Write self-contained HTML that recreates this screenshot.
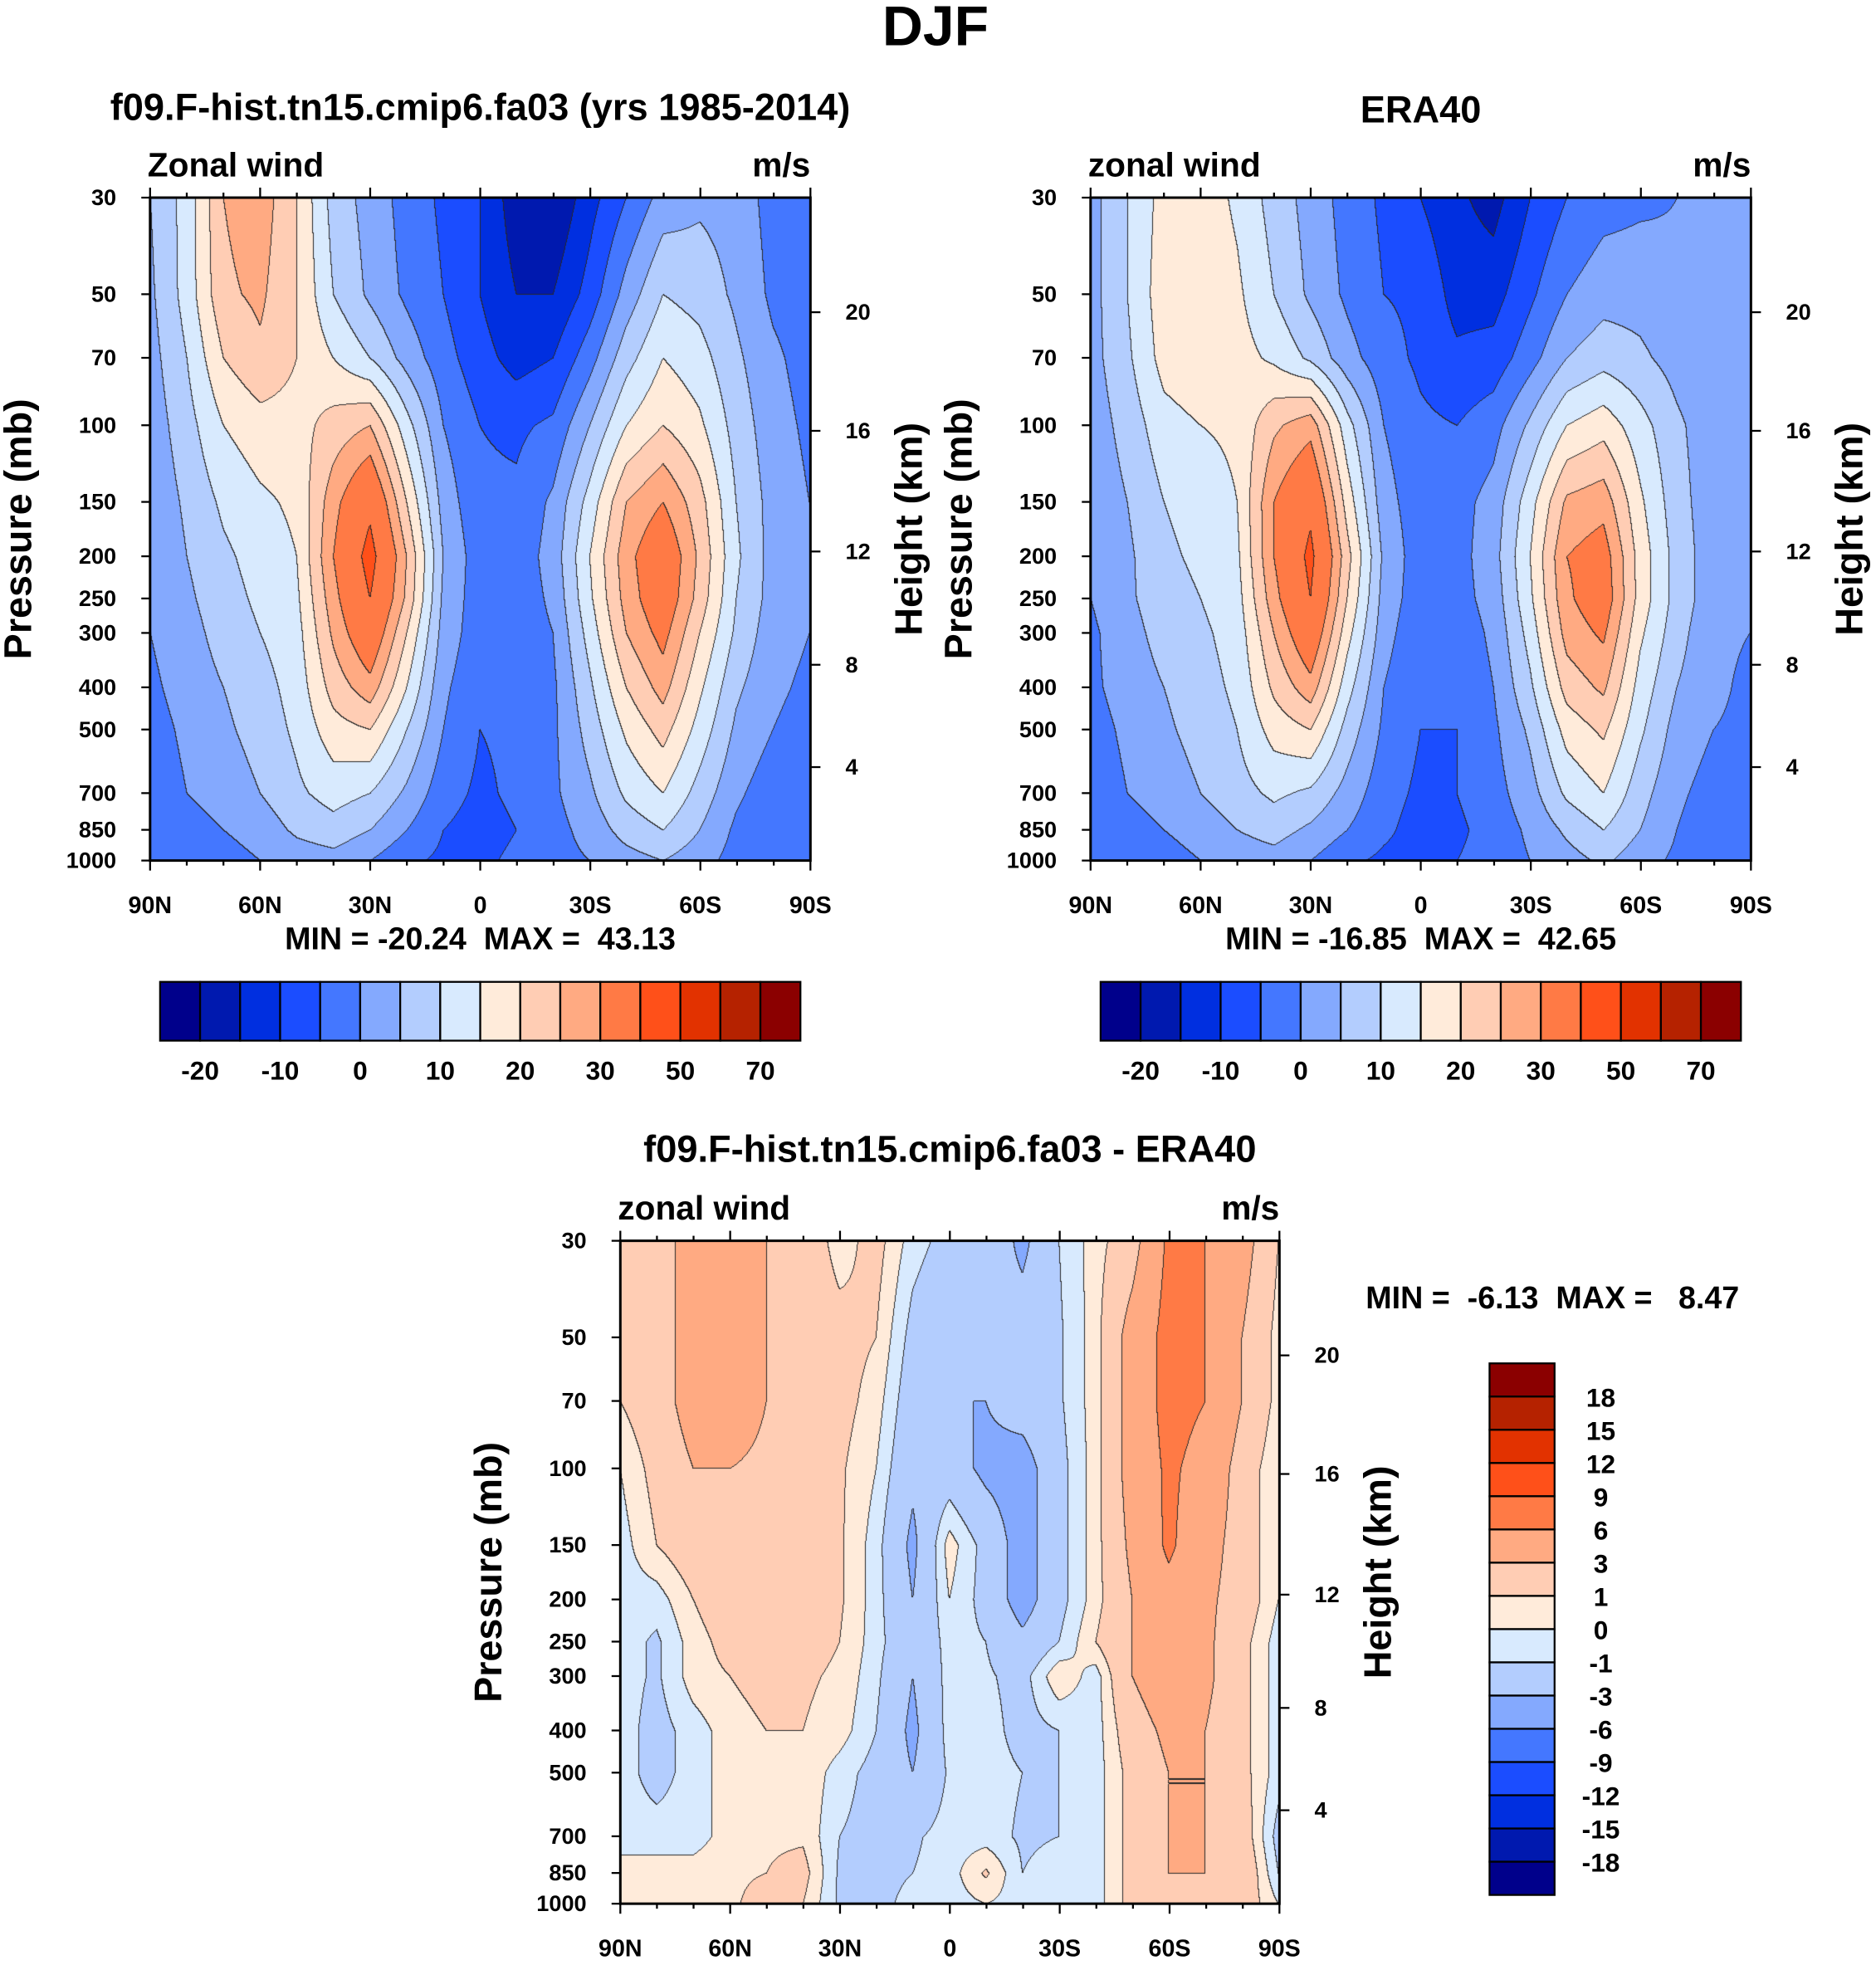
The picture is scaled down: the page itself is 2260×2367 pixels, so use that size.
<!DOCTYPE html>
<html><head><meta charset="utf-8">
<style>
html,body{margin:0;padding:0;background:#fff;}
#wrap{position:relative;width:2260px;height:2367px;overflow:hidden;}
canvas,svg{position:absolute;left:0;top:0;}
text{font-family:"Liberation Sans",sans-serif;font-weight:bold;fill:#000;white-space:pre;}
</style></head>
<body>
<div id="wrap">
<canvas id="cv" width="2260" height="2367"></canvas>
<svg id="sv" width="2260" height="2367" viewBox="0 0 1500 1571"></svg>
</div>
<script>
const lats=[90,80,70,60,50,40,30,20,10,0,-10,-20,-30,-40,-50,-60,-70,-80,-90];
const levels=[30,50,70,100,150,200,250,300,400,500,700,850,1000];
const pTicks=[30,50,70,100,150,200,250,300,400,500,700,850,1000];
const hTicks=[20,16,12,8,4];
const hTickP=[55,103,195,355,610];
const latTicks=["90N","60N","30N","0","30S","60S","90S"];
const colors=["#00008b","#0019af","#002fe0","#1b4dff","#4477ff","#84a9fe","#b3cdfe","#d8eafe","#ffebda","#ffcdb4","#ffaa82","#ff7a45","#ff5019","#e23200","#b52200","#8b0000"];
const bounds1=[-20,-15,-10,-5,0,5,10,15,20,25,30,40,50,60,70];
const cbLabels1=["-20","-10","0","10","20","30","50","70"];
const bounds3=[-18,-15,-12,-9,-6,-3,-1,0,1,3,6,9,12,15,18];
const model=[
[5,12,25,28,20,8,3,-2,-6,-10,-18,-20,-12,-5,2,4,3,-2,-3],
[4,12,24,26,20,10,4,-1,-5,-10,-15,-15,-8,2,10,8,4,-1,-3],
[3,10,20,24,20,15,10,3,-3,-8,-12,-10,-2,8,15,12,6,1,-2],
[2,8,15,18,18,22,25,12,0,-5,-6,-4,5,15,20,16,8,2,-1],
[1,6,11,14,16,28,38,20,3,-4,-4,1,12,25,30,22,10,3,0],
[0,5,9,12,15,30,43,25,5,-3,-3,2,15,28,36,24,11,3,0],
[0,4,8,11,14,28,40,24,4,-3,-3,1,14,27,35,23,10,3,0],
[0,3,7,10,13,26,36,20,3,-3,-3,0,12,25,32,20,9,2,0],
[-1,2,5,8,12,22,28,15,1,-4,-4,-1,9,20,27,16,6,1,-1],
[-2,1,4,7,11,18,20,10,0,-5,-4,-1,7,16,22,13,4,0,-2],
[-3,0,2,5,9,12,10,4,-3,-6,-4,-1,4,11,15,8,1,-3,-4],
[-3,-2,0,2,6,8,5,0,-5,-7,-5,-2,2,7,10,5,-1,-4,-5],
[-2,-2,-2,0,2,3,0,-4,-6,-6,-4,-2,0,3,5,2,-2,-3,-3]];
const obs=[
[3,10,17,18,14,8,3,-2,-6,-10,-14,-17,-10,-5,-2,-1,0,0,0],
[3,10,18,19,16,10,4,-1,-5,-6,-12,-12,-6,0,3,3,1,0,0],
[3,9,17,19,17,14,9,2,-3,-6,-9,-8,-2,5,8,6,3,1,0],
[2,7,13,15,16,24,28,12,0,-4,-5,-2,6,15,18,12,6,2,0],
[1,5,10,12,15,30,38,18,2,-3,-2,2,13,26,28,16,7,2,0],
[0,4,9,11,14,30,42,22,4,-3,-2,3,15,30,33,18,8,2,0],
[0,4,8,10,13,28,40,20,3,-3,-2,2,14,29,34,18,8,2,0],
[-1,3,7,9,12,25,36,17,2,-4,-3,1,12,27,31,16,7,1,0],
[-1,2,5,8,11,21,28,12,0,-5,-4,0,9,22,26,13,5,1,-1],
[-2,1,4,7,10,17,20,8,-1,-5,-5,-1,6,17,21,11,3,0,-1],
[-3,0,2,5,8,11,9,3,-3,-6,-5,-2,3,11,15,7,1,-2,-3],
[-4,-2,0,2,5,7,4,0,-4,-7,-6,-3,1,6,10,5,0,-3,-3],
[-3,-2,-2,0,2,3,0,-4,-6,-7,-5,-3,0,3,6,2,-1,-2,-2]];
const diff=[
[1.5,2,4,5,3,2,0.5,1.5,-0.5,-1.5,-1.5,-3.5,-1,0.5,2,6.5,6,4,1],
[1,2,4,5,3,2,1.5,1,-1.5,-2.5,-2.5,-2,-1.2,0.5,4,7,6,3,0.5],
[1,2,4,4.5,3,2,1.5,0.5,-2,-3,-3,-2,-1.2,0.5,4,7,6,3,0.5],
[0,1.5,3,3,2.5,1.5,1.2,0,-2.5,-2,-3.5,-4,-1.5,0.5,4,6.5,5,2,0],
[-0.5,1,2,2.5,2,1.5,1.2,-0.5,-3.5,0.5,-1.5,-4,-1.5,0.5,3.5,6.5,4,2,0],
[-0.5,-0.5,1,2,2,1.5,1.2,-0.5,-3,0,-1.5,-4,-1.5,0.5,3,5,3.5,2,0],
[-0.5,-1.2,0.5,1.5,2,1.5,1,-0.5,-2.5,-0.5,-1,-2.5,-1,1,3,5,3.5,1.5,-0.5],
[-0.5,-1.2,0.5,1,1.5,1.2,0.8,-0.7,-3,-0.5,-0.8,-1.5,0.8,-0.5,3,4.5,3.5,1.5,-0.5],
[-0.5,-1.5,-0.5,0.5,1,1,0.5,-1,-3.5,-0.5,-0.5,-1.5,-1,-0.5,2,3.5,3,1.5,-0.5],
[-0.5,-1.5,-0.5,0.5,1,0.8,-0.5,-1.5,-3,-0.8,-0.5,-1,-1,-0.5,1.5,3,3,1.5,-0.5],
[-0.5,-0.5,-0.5,0.5,0.8,0.8,-1,-1.5,-1.2,-0.5,-0.5,-1.2,-1,-0.5,1.5,3,3,2,-1.5],
[0.5,0.5,0.5,0.8,1,1.5,-1.2,-1.5,-1,-0.5,1.2,-1,-0.5,-0.5,1.5,3,3,2.5,-1],
[0.5,0.5,0.5,0.8,1.5,1,-1.2,-1.5,-0.5,-0.5,0,-0.5,-0.5,-0.5,1.5,2.5,2.5,2,0]];

const S=2260/1500;
const NS='http://www.w3.org/2000/svg';
const sv=document.getElementById('sv');
const ctx=document.getElementById('cv').getContext('2d');
function el(tag,attrs,parent,txt){const e=document.createElementNS(NS,tag);for(const k in attrs)e.setAttribute(k,attrs[k]);if(txt!==undefined)e.textContent=txt;(parent||sv).appendChild(e);return e;}
function hex(c){return [parseInt(c.substr(1,2),16),parseInt(c.substr(3,2),16),parseInt(c.substr(5,2),16)];}
const rgb=colors.map(hex);

function panel(P){
  const {x0,y0,w,h,data,bounds,name}=P;
  const xS=lat=>x0+(90-lat)/180*w;
  const yS=p=>y0+h*Math.log(p/30)/Math.log(1000/30);
  const X0=Math.round(x0*S),Y0=Math.round(y0*S),W=Math.round((x0+w)*S)-X0,H=Math.round((y0+h)*S)-Y0;
  const lvY=levels.map(p=>(yS(p)*S-Y0));
  const img=ctx.createImageData(W,H);
  const idx=new Int16Array(W*H);
  for(let j=0;j<H;j++){
    let k=0;while(k<levels.length-2&&lvY[k+1]<j)k++;
    const ty=Math.min(1,Math.max(0,(j-lvY[k])/(lvY[k+1]-lvY[k])));
    for(let i=0;i<W;i++){
      const fx=i/(W-1)*(lats.length-1);let c=Math.min(lats.length-2,Math.floor(fx));const tx=fx-c;
      const v=(1-ty)*((1-tx)*data[k][c]+tx*data[k][c+1])+ty*((1-tx)*data[k+1][c]+tx*data[k+1][c+1]);
      let b=0;while(b<bounds.length&&v>=bounds[b])b++;
      idx[j*W+i]=b;
    }
  }
  for(let j=0;j<H;j++)for(let i=0;i<W;i++){
    const b=idx[j*W+i];let col=rgb[b];
    if((i<W-1&&idx[j*W+i+1]!==b)||(j<H-1&&idx[(j+1)*W+i]!==b))col=[40,40,40];
    const o=(j*W+i)*4;img.data[o]=col[0];img.data[o+1]=col[1];img.data[o+2]=col[2];img.data[o+3]=255;
  }
  ctx.putImageData(img,X0,Y0);
  const g=el('g',{});
  el('rect',{x:x0,y:y0,width:w,height:h,fill:'none',stroke:'#000','stroke-width':2,},g);
  pTicks.forEach(p=>{const y=yS(p);
    el('line',{x1:x0-7,x2:x0,y1:y,y2:y,stroke:'#000','stroke-width':1.5},g);
    el('text',{x:x0-27,y:y+6,'text-anchor':'end','font-size':18,},g,p);});
  hTicks.forEach((hv,i)=>{const y=yS(hTickP[i]);
    el('line',{x1:x0+w,x2:x0+w+8,y1:y,y2:y,stroke:'#000','stroke-width':1.5},g);
    el('text',{x:x0+w+28,y:y+6,'font-size':18,},g,hv);});
  for(let lat=90;lat>=-90;lat-=10){const x=xS(lat);const maj=lat%30===0;
    el('line',{x1:x0+0,x2:x,y1:y0,y2:y0-(maj?8:4),stroke:'#000','stroke-width':0},g);
    el('line',{x1:x,x2:x,y1:y0,y2:y0-(maj?8:4),stroke:'#000','stroke-width':1.5},g);
    el('line',{x1:x,x2:x,y1:y0+h,y2:y0+h+(maj?8:4),stroke:'#000','stroke-width':1.5},g);}
  latTicks.forEach((t,i)=>{el('text',{x:xS(90-30*i),y:y0+h+42,'text-anchor':'middle','font-size':19,},g,t);});
  el('text',{x:x0-2,y:y0-17,'font-size':27,},g,P.left);
  el('text',{x:x0+w,y:y0-17,'text-anchor':'end','font-size':27,},g,'m/s');
  el('text',{x:x0+w/2,y:P.ty,'text-anchor':'middle','font-size':30,},g,P.title);
  const cy=y0+h/2;
  el('text',{x:0,y:0,transform:`translate(${x0-95},${cy}) rotate(-90)`,'text-anchor':'middle','font-size':31,},g,'Pressure (mb)');
  el('text',{x:0,y:0,transform:`translate(${x0+w+89},${cy}) rotate(-90)`,'text-anchor':'middle','font-size':31,},g,'Height (km)');
  return g;
}
el('text',{x:748,y:36,'text-anchor':'middle','font-size':45,},sv,'DJF');
const g1=panel({x0:120,y0:158,w:528,h:530,data:model,bounds:bounds1,name:'model-panel',left:'Zonal wind',title:'f09.F-hist.tn15.cmip6.fa03 (yrs 1985-2014)',ty:96});
const g2=panel({x0:872,y0:158,w:528,h:530,data:obs,bounds:bounds1,name:'era40-panel',left:'zonal wind',title:'ERA40',ty:98});
const g3=panel({x0:496,y0:992,w:527,h:530,data:diff,bounds:bounds3,name:'difference-panel',left:'zonal wind',title:'f09.F-hist.tn15.cmip6.fa03 - ERA40',ty:929});
el('text',{x:384,y:759,'text-anchor':'middle','font-size':25,},g1,'MIN = -20.24  MAX =  43.13');
el('text',{x:1136,y:759,'text-anchor':'middle','font-size':25,},g2,'MIN = -16.85  MAX =  42.65');
el('text',{x:1092,y:1046,'font-size':25,},g3,'MIN =  -6.13  MAX =   8.47');
function hbar(x0,parent){
  const g=el('g',{},parent);
  colors.forEach((c,i)=>el('rect',{x:x0+i*32,y:785,width:32,height:47,fill:c,stroke:'#000','stroke-width':1.5,},g));
  cbLabels1.forEach((t,i)=>el('text',{x:x0+32+i*64,y:863,'text-anchor':'middle','font-size':21,},g,t));
}
hbar(128,g1);hbar(880,g2);
const gv=el('g',{},g3);
const bh=(1515-1090)/16;
colors.slice().reverse().forEach((c,i)=>el('rect',{x:1191,y:1090+i*bh,width:52,height:bh,fill:c,stroke:'#000','stroke-width':1.5,},gv));
bounds3.slice().reverse().forEach((b,i)=>el('text',{x:1280,y:1090+(i+1)*bh+8,'text-anchor':'middle','font-size':21,},gv,b));
</script>
</body></html>
